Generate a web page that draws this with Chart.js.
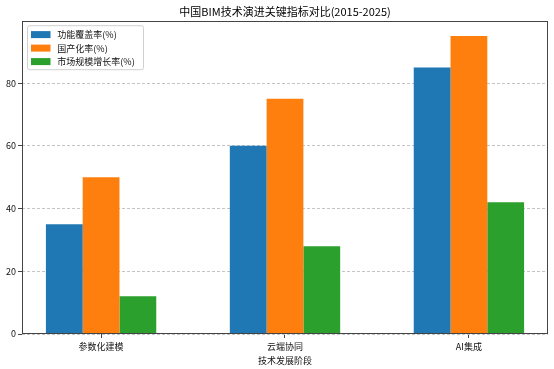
<!DOCTYPE html>
<html>
<head>
<meta charset="utf-8">
<script src="https://cdn.jsdelivr.net/npm/chart.js@4/dist/chart.umd.min.js"></script>
<style>
  html, body { margin: 0; padding: 0; background: #fff; }
  #wrap { width: 554px; height: 369px; }
</style>
</head>
<body>
<div id="wrap"><canvas id="chart"></canvas></div>
<script>
// 数据
const categories = ['参数化建模', '云端协同', 'AI集成'];
const coverage = [35, 60, 85];       // 功能覆盖率(%)
const localization = [50, 75, 95];   // 国产化率(%)
const growth = [12, 28, 42];         // 市场规模增长率(%)
const seriesNames = ['功能覆盖率(%)', '国产化率(%)', '市场规模增长率(%)'];
const yTicks = [0, 20, 40, 60, 80];

const colors = ['#1f77b4', '#ff7f0e', '#2ca02c'];
const FONT = '"Noto Sans CJK SC", "DejaVu Sans", sans-serif';

Chart.defaults.font.family = FONT;
Chart.defaults.color = '#111';

function toPoints(values) {
    return values.map((v, i) => ({ x: i, y: v }));
}

// 边框 + 图例(在绘图区内左上角)
const frameAndLegend = {
    id: 'frameAndLegend',
    afterDatasetsDraw(chart) {
        const { ctx, chartArea: a } = chart;
        ctx.save();
        ctx.strokeStyle = '#444';
        ctx.lineWidth = 1;
        ctx.strokeRect(Math.round(a.left) + 0.5, Math.round(a.top) + 0.5,
            Math.round(a.right - a.left) - 1, Math.round(a.bottom - a.top) - 1);
        ctx.restore();
    },
    afterDraw(chart) {
        const { ctx, chartArea: a } = chart;
        const bx = a.left + 5.5, by = a.top + 4.5;
        ctx.save();
        ctx.beginPath();
        ctx.roundRect(bx, by, 116, 44, 2);
        ctx.fillStyle = 'rgba(255,255,255,0.85)';
        ctx.fill();
        ctx.strokeStyle = '#d0d0d0';
        ctx.lineWidth = 1;
        ctx.stroke();
        ctx.font = '9px ' + FONT;
        ctx.textBaseline = 'middle';
        chart.data.datasets.forEach((ds, i) => {
            const cy = a.top + 13.4 + i * 13.5;
            ctx.fillStyle = ds.backgroundColor;
            ctx.fillRect(a.left + 9, cy - 3.5, 19.5, 7);
            ctx.fillStyle = '#111';
            ctx.fillText(ds.label, a.left + 35.3, cy);
        });
        ctx.restore();
    }
};

new Chart(document.getElementById('chart'), {
    type: 'bar',
    data: {
        datasets: [
            { label: seriesNames[0], data: toPoints(coverage), backgroundColor: colors[0] },
            { label: seriesNames[1], data: toPoints(localization), backgroundColor: colors[1] },
            { label: seriesNames[2], data: toPoints(growth), backgroundColor: colors[2] }
        ]
    },
    options: {
        responsive: true,
        maintainAspectRatio: false,
        animation: false,
        layout: { padding: { left: 0, right: 6, top: 0, bottom: 0 } },
        datasets: {
            bar: {
                categoryPercentage: 0.6,
                barPercentage: 1.0,
                borderWidth: 0
            }
        },
        plugins: {
            legend: { display: false },
            tooltip: { enabled: false },
            title: {
                display: true,
                text: '中国BIM技术演进关键指标对比(2015-2025)',
                fullSize: false,
                color: '#000',
                font: { size: 11, weight: 'normal' },
                padding: { top: 5, bottom: 3 }
            }
        },
        scales: {
            x: {
                type: 'linear',
                min: -0.43,
                max: 2.43,
                offset: false,
                afterBuildTicks: (scale) => {
                    scale.ticks = categories.map((c, i) => ({ value: i }));
                },
                afterFit: (scale) => { scale.height = 35; },
                ticks: {
                    callback: (v) => categories[v],
                    font: { size: 9 },
                    color: '#111',
                    padding: 3,
                    maxRotation: 0
                },
                grid: {
                    offset: false,
                    drawOnChartArea: false,
                    tickLength: 4,
                    tickColor: '#444'
                },
                border: { display: false },
                title: {
                    display: true,
                    text: '技术发展阶段',
                    font: { size: 9 },
                    color: '#111',
                    padding: { top: 0, bottom: 3.5 }
                }
            },
            y: {
                min: 0,
                max: 99.75,
                afterBuildTicks: (scale) => {
                    scale.ticks = yTicks.map(v => ({ value: v }));
                },
                afterFit: (scale) => { scale.width = 22; },
                ticks: {
                    font: { size: 9 },
                    color: '#111',
                    padding: 2
                },
                grid: {
                    color: '#c4c4c4',
                    lineWidth: 1,
                    tickLength: 4,
                    tickColor: '#444',
                    tickBorderDash: []
                },
                border: { display: false, dash: [3, 2] }
            }
        }
    },
    plugins: [frameAndLegend]
});
</script>
</body>
</html>
